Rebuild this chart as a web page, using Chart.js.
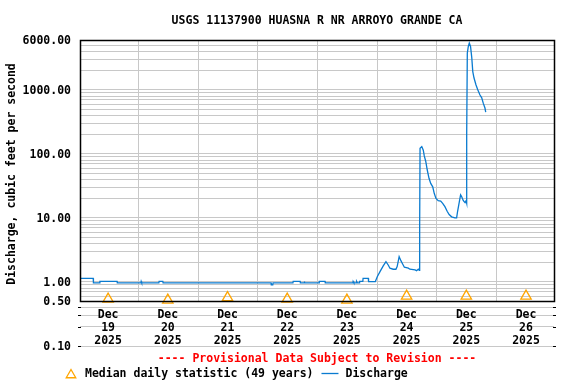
<!DOCTYPE html>
<html>
<head>
<meta charset="utf-8">
<script src="https://cdn.jsdelivr.net/npm/chart.js@4/dist/chart.umd.min.js"></script>
<style>
  html, body { margin: 0; padding: 0; background: #fff; }
</style>
</head>
<body>
<canvas id="c" width="576" height="384"></canvas>
<script>
// Huasna R discharge, 19-26 Dec 2025. x = hours since Dec 19 00:00
const stationTitle = 'USGS 11137900 HUASNA R NR ARROYO GRANDE CA';
const yAxisTitle = 'Discharge, cubic feet per second';
const noteText = '---- Provisional Data Subject to Revision ----';
const tickMonth = 'Dec';
const tickYear = '2025';
const tickDays = ['19', '20', '21', '22', '23', '24', '25', '26'];
const dayHours = [12, 36, 60, 84, 108, 132, 156, 180];
const yLabelValues = [0.1, 0.5, 1, 10, 100, 1000, 6000];

const medianLabel = 'Median daily statistic (49 years)';
const medianCfs = [0.54, 0.52, 0.57, 0.54, 0.52, 0.60, 0.60, 0.60];

const flowLabel = 'Discharge';
const flowHours = [
  0.9, 6.0, 6.1, 8.6, 8.7, 15.6, 15.7, 25.2, 25.3, 25.5,
  32.4, 32.5, 34.0, 34.1, 77.5, 77.6, 78.2, 78.3, 86.3, 86.4,
  89.2, 89.3, 90.8, 90.9, 91.0, 96.8, 96.9, 99.2, 99.3, 110.4,
  110.5, 110.8, 111.8, 111.9, 112.2, 113.0, 113.1, 114.4, 114.5, 116.6,
  116.7, 119.4, 120.2, 121.3, 122.6, 123.7, 124.6, 125.3, 126.6, 127.7,
  128.2, 129.0, 129.7, 130.4, 131.1, 132.7, 133.3, 135.4, 136.0, 136.7,
  137.1, 137.2, 137.3, 137.4, 138.1, 138.7, 139.1, 139.7, 140.3, 141.0,
  141.7, 142.5, 143.1, 143.8, 144.7, 145.7, 146.5, 147.4, 148.3, 149.1,
  150.1, 151.4, 152.1, 152.5, 153.2, 153.7, 154.1, 154.8, 155.5, 155.9,
  156.1, 156.2, 156.4, 156.8, 157.2, 157.7, 158.2, 158.6, 159.1, 159.9,
  160.6, 161.5, 162.2, 162.8, 163.5, 163.8
];
const flowCfs = [
  1.14, 1.14, 0.97, 0.97, 1.02, 1.02, 0.97, 0.97, 1.02, 0.97,
  0.97, 1.02, 1.02, 0.97, 0.97, 0.90, 0.90, 0.97, 0.97, 1.02,
  1.02, 0.97, 0.97, 1.02, 0.97, 0.97, 1.02, 1.02, 0.97, 0.97,
  1.02, 0.97, 0.97, 1.02, 0.97, 0.97, 1.02, 1.02, 1.14, 1.14,
  1.01, 1.01, 1.21, 1.45, 1.78, 2.08, 1.84, 1.64, 1.58, 1.58,
  1.74, 2.49, 2.15, 1.91, 1.70, 1.64, 1.58, 1.54, 1.50, 1.58,
  1.52, 7.8, 7.8, 122, 130, 114, 93, 76, 56, 41.6,
  34.6, 30.6, 24.2, 20.2, 18.6, 18.3, 16.9, 15.0, 12.7, 11.3,
  10.4, 10.0, 10.0, 12.7, 18.0, 22.9, 21.6, 18.6, 17.3, 18.6,
  17.0, 198, 3740, 4750, 5370, 4750, 3160, 1930, 1530, 1190,
  1000, 830, 750, 620, 520, 450
];

const FONT = '"DejaVu Sans Mono", monospace';
const gridColor = '#c8c8c8';
const flowColor = '#0a7bd0';
const medianColor = '#ffa500';

const usgsFrame = {
  id: 'usgsFrame',
  beforeDatasetsDraw(chart) {
    const { ctx, chartArea: a, scales: { x, y } } = chart;
    const yb = Math.round(y.getPixelForValue(0.5));
    ctx.save();
    ctx.strokeStyle = gridColor;
    ctx.lineWidth = 1;
    for (let h = 24; h < 192; h += 24) {
      const px = Math.round(x.getPixelForValue(h)) + 0.5;
      ctx.beginPath(); ctx.moveTo(px, a.top); ctx.lineTo(px, yb); ctx.stroke();
    }
    ctx.restore();
  },
  afterDatasetsDraw(chart) {
    const { ctx, chartArea: a, scales: { y } } = chart;
    const yb = Math.round(y.getPixelForValue(0.5)) + 0.5;
    ctx.save();
    ctx.strokeStyle = '#000';
    ctx.lineWidth = 1.5;
    ctx.strokeRect(Math.round(a.left) + 0.5, Math.round(a.top) + 0.5, Math.round(a.right - a.left), yb - Math.round(a.top) - 0.5);
    // little marks at the ends of the gridlines below the plot
    ctx.lineWidth = 1;
    [0.4, 0.3, 0.2, 0.1].forEach(v => {
      const py = Math.round(y.getPixelForValue(v)) + 0.5;
      ctx.beginPath();
      ctx.moveTo(a.left - 2, py); ctx.lineTo(a.left + 1, py);
      ctx.moveTo(a.right - 1, py); ctx.lineTo(a.right + 2, py);
      ctx.stroke();
    });
    ctx.restore();
  },
  afterDraw(chart) {
    const { ctx, chartArea: a } = chart;
    const ds = chart.data.datasets;
    const cx = (a.left + a.right) / 2;
    ctx.save();
    ctx.font = 'bold 11.5px ' + FONT;
    ctx.textBaseline = 'middle';
    ctx.fillStyle = '#000';
    ctx.textAlign = 'center';
    ctx.fillText(stationTitle, cx, 21);

    ctx.save();
    ctx.translate(12, 174);
    ctx.rotate(-Math.PI / 2);
    ctx.fillText(yAxisTitle, 0, 0);
    ctx.restore();

    ctx.fillStyle = '#ff0000';
    ctx.fillText(noteText, cx, 359);

    // legend
    const ly = 374;
    ctx.strokeStyle = medianColor;
    ctx.lineWidth = 1.3;
    const tx = 71, ty = 375, r = 5.5;
    ctx.beginPath();
    ctx.moveTo(tx, ty - r);
    ctx.lineTo(tx + r * Math.sin(Math.PI / 3), ty + r / 2);
    ctx.lineTo(tx - r * Math.sin(Math.PI / 3), ty + r / 2);
    ctx.closePath();
    ctx.stroke();

    ctx.fillStyle = '#000';
    ctx.textAlign = 'left';
    ctx.fillText(ds[0].label, 85, ly);
    const lx = 85 + ctx.measureText(ds[0].label).width + 8;
    ctx.strokeStyle = flowColor;
    ctx.lineWidth = 1.3;
    ctx.beginPath(); ctx.moveTo(lx, ly - 0.5); ctx.lineTo(lx + 17, ly - 0.5); ctx.stroke();
    ctx.fillText(ds[1].label, lx + 24, ly);
    ctx.restore();
  }
};

new Chart(document.getElementById('c'), {
  type: 'line',
  data: {
    datasets: [
      {
        label: medianLabel,
        data: dayHours.map((h, i) => ({ x: h, y: medianCfs[i] })),
        showLine: false,
        pointStyle: 'triangle',
        pointRadius: 6,
        pointBorderWidth: 1.3,
        borderColor: medianColor,
        backgroundColor: 'rgba(0,0,0,0)',
        clip: false
      },
      {
        label: flowLabel,
        data: flowHours.map((h, i) => ({ x: h, y: flowCfs[i] })),
        borderColor: flowColor,
        borderWidth: 1.3,
        pointRadius: 0,
        fill: false,
        tension: 0
      }
    ]
  },
  options: {
    responsive: false,
    animation: false,
    events: [],
    layout: { padding: { top: 40, right: 22, bottom: 38, left: 0 } },
    plugins: { legend: { display: false }, title: { display: false }, tooltip: { enabled: false } },
    scales: {
      x: {
        type: 'linear',
        min: 0.7,
        max: 191.25,
        position: { y: 0.5 },
        grid: { display: false, drawTicks: false, tickLength: 0 },
        border: { display: false },
        afterBuildTicks: s => { s.ticks = dayHours.map(h => ({ value: h })); },
        ticks: {
          autoSkip: false,
          maxRotation: 0,
          padding: 7,
          color: '#000',
          font: { family: FONT, size: 11.5, weight: 'bold', lineHeight: '13px' },
          callback: (v, i) => [tickMonth, tickDays[i], tickYear]
        }
      },
      y: {
        type: 'logarithmic',
        min: 0.1,
        max: 6000,
        afterFit: s => { s.width = 80; },
        afterBuildTicks: s => {
          const t = [];
          for (let e = -1; e <= 3; e++) {
            for (let m = 1; m <= 9; m++) {
              const v = +(m * Math.pow(10, e)).toPrecision(3);
              if (v <= 6000) t.push({ value: v });
            }
          }
          s.ticks = t;
        },
        grid: { color: gridColor, lineWidth: 1, drawTicks: false },
        border: { display: false },
        ticks: {
          autoSkip: false,
          padding: 9,
          labelOffset: 1,
          color: '#000',
          font: { family: FONT, size: 11.5, weight: 'bold' },
          callback: v => yLabelValues.includes(v) ? v.toFixed(2) : ''
        }
      }
    }
  },
  plugins: [usgsFrame]
});
</script>
</body>
</html>
